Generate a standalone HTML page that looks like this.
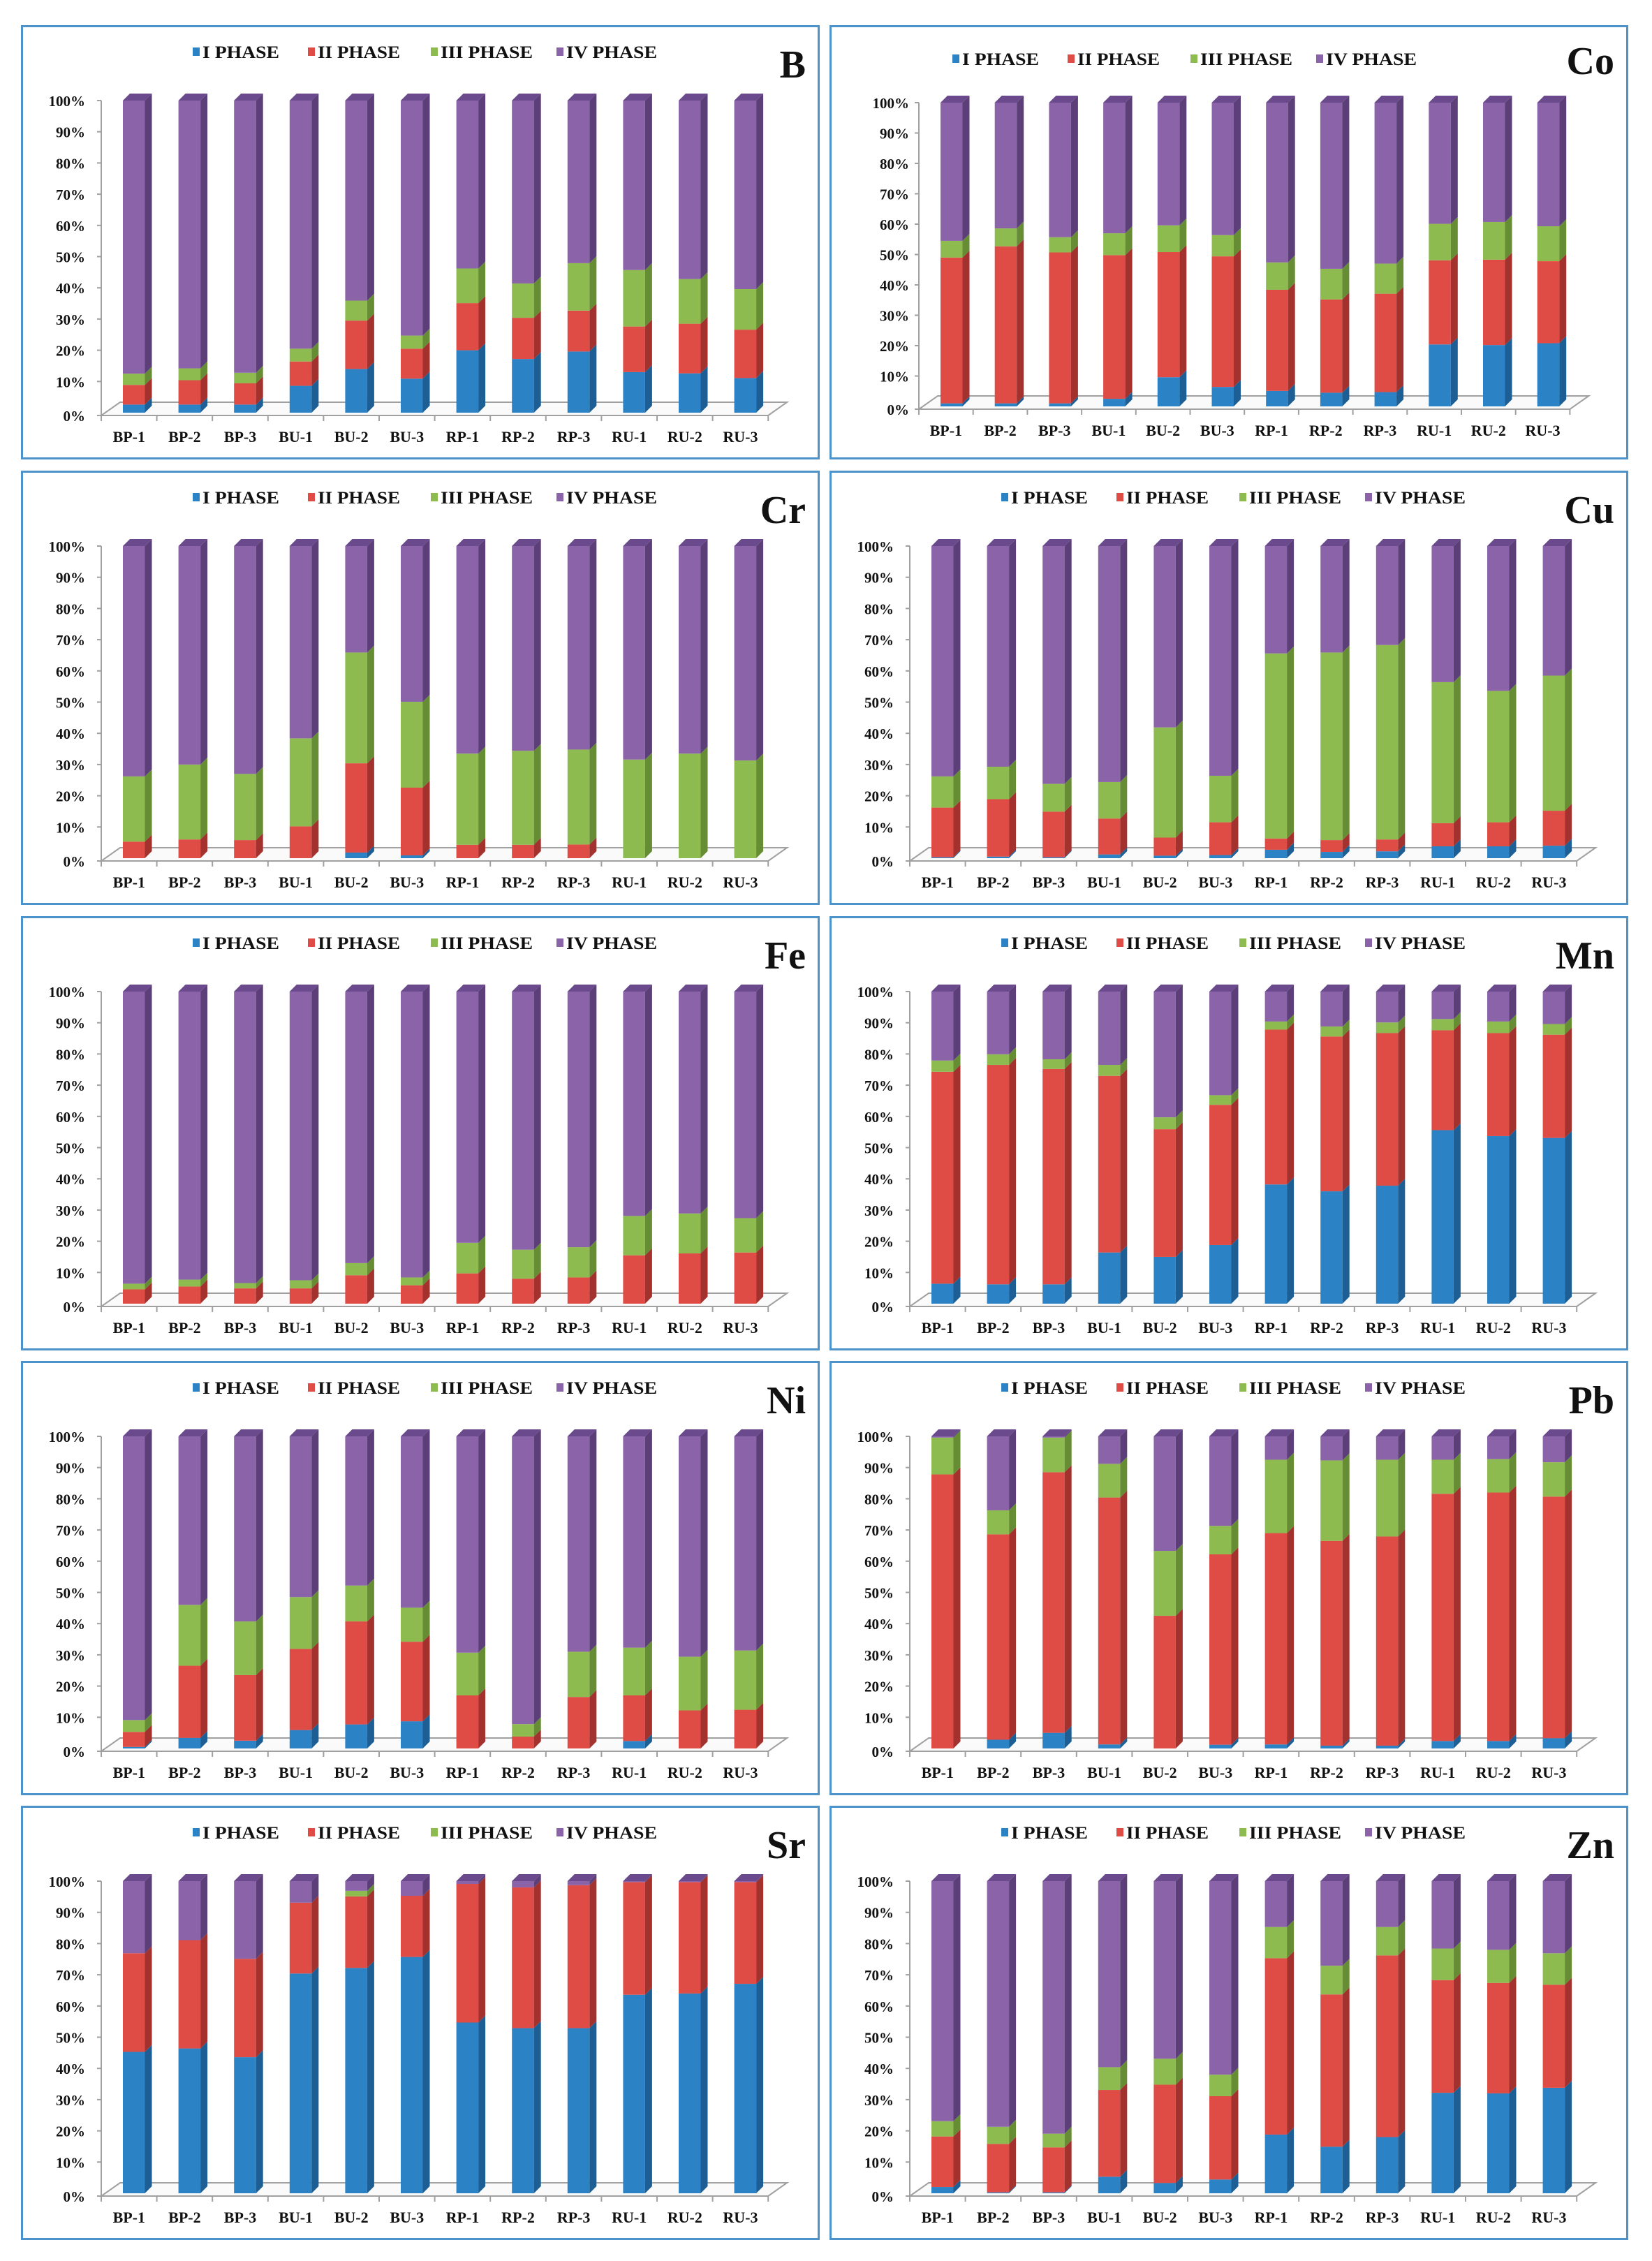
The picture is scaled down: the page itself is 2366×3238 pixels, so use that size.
<!DOCTYPE html>
<html><head><meta charset="utf-8"><title>Metal fractionation phases</title>
<style>
html,body{margin:0;padding:0;background:#fff;}
svg{display:block;}
text{font-family:"Liberation Serif",serif;font-weight:bold;fill:#111;}
</style></head>
<body>
<svg id="fig" width="2366" height="3238" viewBox="0 0 2366 3238" xmlns="http://www.w3.org/2000/svg"></svg>
<script>
// ---- data (percent per phase; IV PHASE = remainder to 100%) ----
const categories = ["BP-1","BP-2","BP-3","BU-1","BU-2","BU-3","RP-1","RP-2","RP-3","RU-1","RU-2","RU-3"];
const yTicks = [0,10,20,30,40,50,60,70,80,90,100];
const yTickLabels = ["0%","10%","20%","30%","40%","50%","60%","70%","80%","90%","100%"];
const phaseNames = ["I PHASE","II PHASE","III PHASE","IV PHASE"];
const elements = ["B","Co","Cr","Cu","Fe","Mn","Ni","Pb","Sr","Zn"];

const B_p1 = [2.6,2.6,2.6,8.6,14.0,10.9,20.0,17.2,19.6,13.0,12.6,11.1];
const B_p2 = [6.3,7.8,6.8,7.8,15.5,9.6,15.1,13.2,13.1,14.6,15.9,15.5];
const B_p3 = [3.6,3.8,3.4,4.1,6.4,4.2,11.1,11.0,15.2,18.1,14.3,13.0];

const Co_p1 = [1.0,1.0,1.0,2.5,9.6,6.4,5.1,4.5,4.7,20.4,20.2,20.8];
const Co_p2 = [48.0,51.7,49.7,47.3,41.2,43.0,33.3,30.7,32.4,27.7,28.1,27.0];
const Co_p3 = [5.5,5.9,5.0,7.2,8.8,7.0,9.0,10.1,9.9,12.0,12.4,11.5];

const Cr_p1 = [0,0,0,0,1.8,0.9,0,0,0,0,0,0];
const Cr_p2 = [5.3,6.0,5.8,10.2,28.6,21.7,4.3,4.3,4.4,0,0,0];
const Cr_p3 = [20.9,24.0,21.2,28.2,35.5,27.5,29.2,30.1,30.4,31.6,33.5,31.3];

const Cu_p1 = [0.3,0.5,0.3,1.2,0.8,1.0,2.7,2.0,2.2,3.8,3.8,4.0];
const Cu_p2 = [15.9,18.4,14.6,11.5,5.8,10.5,3.6,3.8,3.8,7.4,7.7,11.2];
const Cu_p3 = [10.0,10.4,8.9,11.7,35.3,14.9,59.3,60.1,62.3,45.2,42.1,43.3];

const Fe_p1 = [0,0,0,0,0,0,0,0,0,0,0,0];
const Fe_p2 = [4.6,5.5,4.9,4.9,9.1,5.9,9.7,8.0,8.4,15.5,16.1,16.4];
const Fe_p3 = [1.8,2.2,1.7,2.6,3.9,2.5,9.8,9.3,9.7,12.6,12.8,11.0];

const Mn_p1 = [6.4,6.2,6.2,16.4,15.0,18.8,38.2,36.0,37.8,55.6,53.7,53.1];
const Mn_p2 = [67.9,70.3,69.0,56.6,40.9,44.9,49.6,49.6,48.9,32.0,33.0,33.1];
const Mn_p3 = [3.6,3.4,3.1,3.5,3.8,3.1,2.6,3.2,3.4,3.6,3.7,3.4];

const Ni_p1 = [0.5,3.4,2.5,5.9,7.7,8.7,0,0,0,2.4,0,0];
const Ni_p2 = [4.8,23.1,21.0,26.0,33.0,25.5,17.0,3.8,16.5,14.6,12.2,12.4];
const Ni_p3 = [3.8,19.5,17.2,16.6,11.5,10.9,13.7,4.0,14.5,15.3,17.2,19.0];

const Pb_p1 = [0,2.8,5.0,1.3,0,1.2,1.3,0.9,0.9,2.4,2.4,3.3];
const Pb_p2 = [87.8,65.8,83.5,79.1,42.5,61.0,67.7,65.6,67.0,79.2,79.6,77.4];
const Pb_p3 = [11.8,7.7,11.1,10.8,20.8,9.1,23.5,25.8,24.6,10.9,10.7,11.0];

const Sr_p1 = [45.3,46.4,43.6,70.4,72.2,75.7,54.7,52.9,52.9,63.6,64.0,67.1];
const Sr_p2 = [31.6,34.7,31.5,22.7,22.9,19.6,44.4,45.1,45.8,36.1,35.7,32.6];
const Sr_p3 = [0,0,0,0,1.8,0,0,0,0,0,0,0];

const Zn_p1 = [2.0,0.3,0.3,5.3,3.3,4.4,18.8,14.9,18.0,32.2,32.0,33.8];
const Zn_p2 = [16.2,15.5,14.4,27.8,31.5,26.7,56.5,48.8,58.2,36.1,35.4,33.0];
const Zn_p3 = [4.9,5.5,4.4,7.3,8.3,6.9,10.0,9.2,9.1,10.1,10.6,10.1];

const series = {
  B:[B_p1,B_p2,B_p3], Co:[Co_p1,Co_p2,Co_p3], Cr:[Cr_p1,Cr_p2,Cr_p3], Cu:[Cu_p1,Cu_p2,Cu_p3],
  Fe:[Fe_p1,Fe_p2,Fe_p3], Mn:[Mn_p1,Mn_p2,Mn_p3], Ni:[Ni_p1,Ni_p2,Ni_p3], Pb:[Pb_p1,Pb_p2,Pb_p3],
  Sr:[Sr_p1,Sr_p2,Sr_p3], Zn:[Zn_p1,Zn_p2,Zn_p3]
};

// ---- styling / layout ----
const NS = "http://www.w3.org/2000/svg";
const svg = document.getElementById("fig");
const front = ["#2b83c6","#df4b45","#8dbb4f","#8b63a9"];
const side  = ["#1d5f95","#a3322f","#668c34","#5c3f79"];
const topc  = ["#2574b0","#c43e3a","#7aa844","#6a4a8c"];
const PW = 1144, PH = 622;
const colX = [30, 1188];
const rowY = [36, 674, 1312, 1949, 2586];
const defaultLayout = {axisX:115, bar0:146, pitch:79.6, top:108, bottom:555, legDX:0, legY:38, catY:597, tickR:92};
const coLayout = {axisX:128, bar0:159, pitch:77.7, top:111, bottom:546, legDX:-70, legY:48, catY:588, tickR:114};

function mk(tag, attrs, parent){
  const e = document.createElementNS(NS, tag);
  for (const k in attrs) e.setAttribute(k, attrs[k]);
  parent.appendChild(e);
  return e;
}

elements.forEach((el, idx) => {
  const px = colX[idx % 2], py = rowY[Math.floor(idx / 2)];
  const L = el === "Co" ? coLayout : defaultLayout;
  const g = mk("g", {transform:`translate(${px},${py})`}, svg);
  
  

  const frame = mk("rect", {x:1.5, y:1.5, width:PW-3, height:PH-3, fill:"#fff", stroke:"#4d93c9", "stroke-width":3}, g);
  
  

  const h = L.bottom - L.top;
  const yScale = v => L.bottom - v * h / 100;
  const xBar = i => L.bar0 + i * L.pitch;
  const bw = 31.5, dx = 10, dy = 10;
  const n = categories.length;
  const floorRight = L.axisX + n * L.pitch;

  // floor (3D)
  const floor = mk("polygon", {points:`${L.axisX},${L.bottom+4} ${floorRight},${L.bottom+4} ${floorRight+27},${L.bottom-15} ${L.axisX+27},${L.bottom-15}`, fill:"#fafafa", stroke:"#a0a0a0", "stroke-width":2}, g);
  
  

  // y axis
  const yAxis = mk("line", {x1:L.axisX, y1:yScale(100), x2:L.axisX, y2:L.bottom+4, stroke:"#a0a0a0", "stroke-width":2}, g);
  
  
  yTicks.forEach((t, k) => {
    const yy = (t === 0) ? L.bottom + 4 : yScale(t);
    mk("line", {x1:L.axisX-6, y1:yy, x2:L.axisX, y2:yy, stroke:"#a0a0a0", "stroke-width":2}, g);
    const tx = mk("text", {x:L.tickR, y:yy + 8, "text-anchor":"end", "font-size":21}, g);
    tx.textContent = yTickLabels[k];
    
    
  });

  // x ticks + category labels
  for (let k = 0; k <= n; k++) {
    const xx = L.axisX + k * L.pitch;
    mk("line", {x1:xx, y1:L.bottom+4, x2:xx, y2:L.bottom+12, stroke:"#a0a0a0", "stroke-width":2}, g);
  }
  categories.forEach((c, i) => {
    const tx = mk("text", {x:L.axisX + (i + 0.5) * L.pitch, y:L.catY, "text-anchor":"middle", "font-size":22}, g);
    tx.textContent = c;
    
    
  });

  // bars
  const s = series[el];
  categories.forEach((c, i) => {
    const bg = mk("g", {}, g);
    
    
    const x0 = xBar(i);
    let cum = 0;
    const vals = [s[0][i], s[1][i], s[2][i], Math.max(0, 100 - s[0][i] - s[1][i] - s[2][i])];
    vals.forEach((v, p) => {
      if (v <= 0) return;
      const yb = yScale(cum), yt = yScale(cum + v);
      cum += v;
      const seg = mk("rect", {x:x0, y:yt, width:bw, height:yb - yt, fill:front[p]}, bg);
      
      
      mk("polygon", {points:`${x0+bw},${yt} ${x0+bw+dx},${yt-dy} ${x0+bw+dx},${yb-dy} ${x0+bw},${yb}`, fill:side[p]}, bg);
      if (p === 3 || cum >= 99.9) {
        mk("polygon", {points:`${x0},${yt} ${x0+dx},${yt-dy} ${x0+bw+dx},${yt-dy} ${x0+bw},${yt}`, fill:topc[p]}, bg);
      }
    });
  });

  // legend
  const legX = [246, 411, 587, 767], legW = [110, 118, 132, 130];
  phaseNames.forEach((nm, p) => {
    const lg = mk("g", {}, g);
    
    
    mk("rect", {x:legX[p] + L.legDX, y:L.legY - 6, width:10, height:12, fill:front[p]}, lg);
    const tx = mk("text", {x:legX[p] + L.legDX + 14, y:L.legY + 9, "font-size":25, textLength:legW[p], lengthAdjust:"spacingAndGlyphs"}, lg);
    tx.textContent = nm;
  });

  // element label
  const lab = mk("text", {x:1124, y:(el === "Co" ? 70 : 75), "text-anchor":"end", "font-size":56}, g);
  lab.textContent = el;
  
  
});
</script>
</body></html>
